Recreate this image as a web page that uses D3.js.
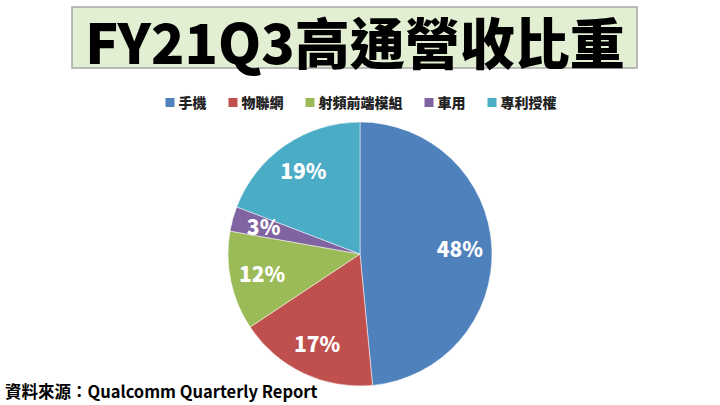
<!DOCTYPE html>
<html>
<head>
<meta charset="utf-8">
<script src="https://cdn.jsdelivr.net/npm/d3@7"></script>
<style>
  body { margin: 0; background: #fff; }
  text { font-family: "Noto Sans CJK TC", "Noto Sans", sans-serif; }
</style>
</head>
<body>
<div id="chart"></div>
<script>
var categories = ["手機", "物聯網", "射頻前端模組", "車用", "專利授權"];
var values = [48, 17, 12, 3, 19];
var colors = ["#4f81bd", "#c0504d", "#9bbb59", "#8064a2", "#4bacc6"];
var title = "FY21Q3高通營收比重";
var source = "資料來源：Qualcomm Quarterly Report";

var svgWidth = 720;
var svgHeight = 405;

var svg = d3.select("#chart")
  .append("svg")
  .attr("width", svgWidth)
  .attr("height", svgHeight);

// title box
svg.append("rect")
  .attr("x", 72)
  .attr("y", 7)
  .attr("width", 565)
  .attr("height", 61)
  .attr("fill", "#e3efd3")
  .attr("stroke", "#a6a6a6")
  .attr("stroke-width", 1.5);

svg.append("text")
  .attr("x", 355)
  .attr("y", 64)
  .attr("text-anchor", "middle")
  .style("font-size", "55px")
  .style("font-weight", 900)
  .attr("fill", "#000")
  .text(title);

// legend
var legend = svg.append("g");
var x = 0;
categories.forEach(function(c, i) {
  var item = legend.append("g").attr("transform", `translate(${x}, 0)`);
  item.append("rect")
    .attr("x", 0)
    .attr("y", -5)
    .attr("width", 9)
    .attr("height", 9)
    .attr("fill", colors[i]);
  var t = item.append("text")
    .attr("x", 13)
    .attr("y", 5)
    .style("font-size", "14px")
    .style("font-weight", 900)
    .attr("fill", "#222")
    .text(c);
  x += 13 + t.node().getComputedTextLength() + 22;
});
x -= 22;
legend.attr("transform", `translate(${361 - x / 2}, 103)`);

// pie
var cx = 360, cy = 254, r = 132;
var pie = d3.pie().sort(null).value(d => d);
var arc = d3.arc().innerRadius(0).outerRadius(r);
var labelArc = d3.arc().innerRadius(100).outerRadius(100);

var pieGroup = svg.append("g")
  .attr("transform", `translate(${cx}, ${cy})`);

var arcs = pie(values);

pieGroup.selectAll("path")
  .data(arcs)
  .enter()
  .append("path")
  .attr("d", arc)
  .attr("fill", (d, i) => colors[i])
  .attr("stroke", "#fff")
  .attr("stroke-width", 0.5);

pieGroup.selectAll("text.lbl")
  .data(arcs)
  .enter()
  .append("text")
  .attr("class", "lbl")
  .attr("transform", d => `translate(${labelArc.centroid(d)})`)
  .attr("text-anchor", "middle")
  .attr("dy", "0.35em")
  .style("font-size", "21px")
  .style("font-weight", 900)
  .attr("fill", "#fff")
  .text(d => d.data + "%");

// source
svg.append("text")
  .attr("x", 5)
  .attr("y", 398)
  .style("font-size", "16.5px")
  .style("font-weight", 700)
  .attr("fill", "#000")
  .text(source);
</script>
</body>
</html>
